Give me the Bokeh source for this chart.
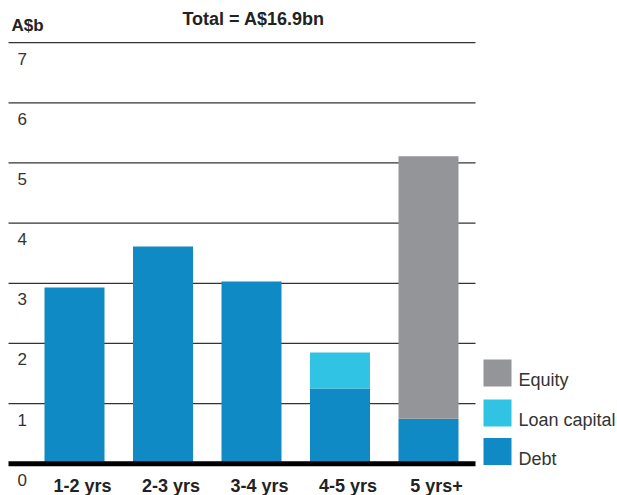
from bokeh.plotting import figure
from bokeh.models import Range1d, ColumnDataSource
from bokeh.core.properties import value
from bokeh.embed import file_html
from bokeh.resources import INLINE

# ---- data ----
categories = ["1-2 yrs", "2-3 yrs", "3-4 yrs", "4-5 yrs", "5 yrs+"]
debt = [2.93, 3.61, 3.03, 1.25, 0.75]
loan_capital = [0.0, 0.0, 0.0, 0.60, 0.0]
equity = [0.0, 0.0, 0.0, 0.0, 4.36]
y_ticks = [0, 1, 2, 3, 4, 5, 6, 7]
y_tick_labels = ["0", "1", "2", "3", "4", "5", "6", "7"]
title_text = "Total = A$16.9bn"
unit_text = "A$b"
legend_names = ["Equity", "Loan capital", "Debt"]

# ---- style ----
C_DEBT = "#0f8ac4"
C_LOAN = "#31c3e3"
C_EQUITY = "#939598"
legend_colors = [C_EQUITY, C_LOAN, C_DEBT]
TXT = "#333333"
FONT = value("Liberation Sans")

W, H = 617, 495
px_per_x = 88.5
px_per_y = 60.17
x0_px = 74.0
y0_px = 463.3


def dx(px):
    return (px - x0_px) / px_per_x


def dy(py):
    return (y0_px - py) / px_per_y


p = figure(width=W, height=H, output_backend="svg", toolbar_location=None,
           x_range=Range1d(dx(0), dx(W)), y_range=Range1d(dy(H), dy(0)),
           min_border=0, min_border_left=0, min_border_right=0,
           min_border_top=0, min_border_bottom=0,
           x_axis_location=None, y_axis_location=None)
p.outline_line_color = None
p.xgrid.visible = False
p.ygrid.visible = False
p.background_fill_color = "white"
p.border_fill_color = "white"

xs = list(range(len(categories)))
src = ColumnDataSource(dict(x=xs, cat=categories, Debt=debt,
                            Loan=loan_capital, Equity=equity))

# gridlines (behind bars)
gx0, gx1 = dx(8), dx(475)
grid_vals = [v for v in y_ticks if v > 0]
p.segment(x0=[gx0] * len(grid_vals), x1=[gx1] * len(grid_vals),
          y0=grid_vals, y1=grid_vals, line_color="#333333", line_width=1.2)

# stacked bars
bar_w = 60 / px_per_x
r = p.vbar_stack(["Debt", "Loan", "Equity"], x="x", width=bar_w,
                 color=[C_DEBT, C_LOAN, C_EQUITY], source=src, line_color=None)

# baseline
p.segment(x0=[gx0], x1=[gx1], y0=[0], y1=[0], line_color="black", line_width=5)

# y tick labels (sit below each gridline)
p.text(x=[dx(17)] * len(y_ticks), y=y_ticks, text=y_tick_labels, y_offset=16,
       text_font=FONT, text_font_size="17px", text_color=TXT,
       text_align="left", text_baseline="middle")

# category labels
p.text(x="x", y=0, text="cat", source=src, x_offset=8, y_offset=22,
       text_font=FONT, text_font_size="18px", text_font_style="bold",
       text_color="#222222", text_align="center", text_baseline="middle")

# title and unit
p.text(x=[dx(253)], y=[dy(18)], text=[title_text],
       text_font=FONT, text_font_size="18px", text_font_style="bold",
       text_color="#222222", text_align="center", text_baseline="middle")
p.text(x=[dx(11)], y=[dy(25)], text=[unit_text],
       text_font=FONT, text_font_size="17px", text_font_style="bold",
       text_color="#222222", text_align="left", text_baseline="middle")

# legend (manual: swatches + labels)
sw_y = [dy(372.5), dy(412.5), dy(451)]
p.rect(x=[dx(497)] * 3, y=sw_y, width=28, height=27,
       width_units="screen", height_units="screen",
       fill_color=legend_colors, line_color=None)
p.text(x=[dx(518)] * 3, y=sw_y, text=legend_names, y_offset=7,
       text_font=FONT, text_font_size="18px", text_color=TXT,
       text_align="left", text_baseline="middle")

open("out.html", "w").write(file_html(p, INLINE))
